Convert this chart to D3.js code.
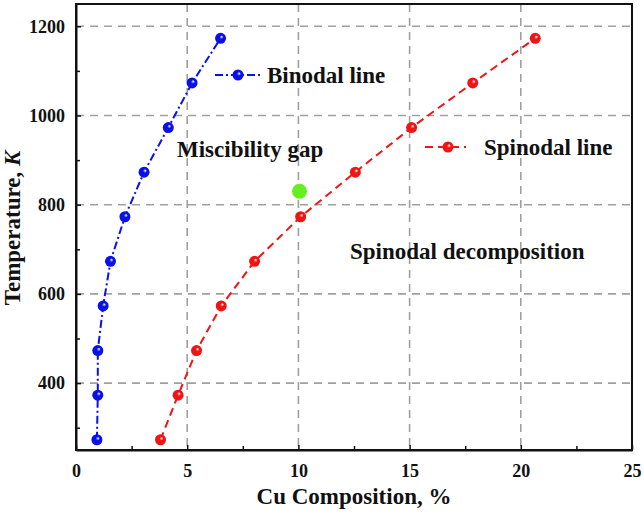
<!DOCTYPE html>
<html>
<head>
<meta charset="utf-8">
<script src="https://cdn.jsdelivr.net/npm/d3@7"></script>
<style>
  html, body { margin: 0; padding: 0; background: #fff; }
  svg { display: block; }
  text { font-family: "Liberation Serif", "Times New Roman", serif; font-weight: bold; fill: #111; }
</style>
</head>
<body>
<script>
// ---- data ----
const temperatures = [273, 373, 473, 573, 673, 773, 873, 973, 1073, 1173];
const binodalCu = [0.94, 0.98, 0.98, 1.22, 1.55, 2.2, 3.06, 4.15, 5.22, 6.5];
const spinodalCu = [3.8, 4.59, 5.42, 6.53, 8.03, 10.1, 12.56, 15.09, 17.84, 20.65];
const specialPoint = [10.05, 830];
const xTicks = [0, 5, 10, 15, 20, 25];
const xMinorTicks = [2.5, 7.5, 12.5, 17.5, 22.5];
const yTicks = [400, 600, 800, 1000, 1200];
const yMinorTicks = [300, 500, 700, 900, 1100];
const seriesNames = ["Binodal line", "Spinodal line"];
const regionLabels = ["Miscibility gap", "Spinodal decomposition"];

const W = 644, H = 514;
const svg = d3.select("body").append("svg").attr("width", W).attr("height", H);

const x = d3.scaleLinear().domain([0, 25]).range([76, 632]);
const y = d3.scaleLinear().domain([250, 1250]).range([450, 4]);

// gradients for ball markers
const defs = svg.append("defs");
function ballGrad(id, color) {
  const g = defs.append("radialGradient").attr("id", id)
    .attr("cx", "0.5").attr("cy", "0.5").attr("r", "0.6")
    .attr("fx", "0.62").attr("fy", "0.35");
  g.append("stop").attr("offset", "0%").attr("stop-color", "#fff");
  g.append("stop").attr("offset", "30%").attr("stop-color", color);
  g.append("stop").attr("offset", "100%").attr("stop-color", color);
}
ballGrad("gBlue", "#0a10e8");
ballGrad("gRed", "#f01414");

// grid
const grid = svg.append("g");
grid.selectAll(".vg").data(xTicks.filter(d => d > 0 && d < 25)).join("line")
  .attr("x1", d => x(d)).attr("x2", d => x(d)).attr("y1", y(1250)).attr("y2", y(250))
  .attr("stroke", "#a0a0a0").attr("stroke-width", 1.6).attr("stroke-dasharray", "8,6");
grid.selectAll(".hg").data(yTicks).join("line")
  .attr("y1", d => y(d)).attr("y2", d => y(d)).attr("x1", x(0)).attr("x2", x(25))
  .attr("stroke", "#a0a0a0").attr("stroke-width", 1.6).attr("stroke-dasharray", "8,6");

// axes
const fmt = d3.format("d");
const xAxis = d3.axisBottom(x).tickValues(xTicks).tickFormat(fmt).tickSizeInner(-5).tickSizeOuter(0).tickPadding(14);
const gx = svg.append("g").attr("transform", `translate(0,${y(250)})`).call(xAxis);
gx.selectAll("text").attr("font-size", 18).style("font-family", "Liberation Serif").style("font-weight", "bold").attr("fill", "#111");
const xMinor = d3.axisBottom(x).tickValues(xMinorTicks).tickSizeInner(-4).tickSizeOuter(0).tickFormat("");
svg.append("g").attr("transform", `translate(0,${y(250)})`).call(xMinor).select(".domain").remove();

const yAxis = d3.axisLeft(y).tickValues(yTicks).tickFormat(fmt).tickSizeInner(-5).tickSizeOuter(0).tickPadding(11);
const gy = svg.append("g").attr("transform", `translate(${x(0)},0)`).call(yAxis);
gy.selectAll("text").attr("font-size", 18).style("font-family", "Liberation Serif").style("font-weight", "bold").attr("fill", "#111");
const yMinor = d3.axisLeft(y).tickValues(yMinorTicks).tickSizeInner(-4).tickSizeOuter(0).tickFormat("");
svg.append("g").attr("transform", `translate(${x(0)},0)`).call(yMinor).select(".domain").remove();

svg.selectAll(".domain").attr("stroke", "#111").attr("stroke-width", 2);
svg.selectAll(".tick line").attr("stroke", "#111").attr("stroke-width", 1.5);

// frame
svg.append("rect").attr("x", x(0)).attr("y", y(1250)).attr("width", x(25) - x(0)).attr("height", y(250) - y(1250))
  .attr("fill", "none").attr("stroke", "#111").attr("stroke-width", 2);

// lines
const line = (vals) => d3.line().x((d, i) => x(vals[i])).y(d => y(d))(temperatures);
svg.append("path").attr("d", line(binodalCu)).attr("fill", "none").attr("stroke", "#0a10e8")
  .attr("stroke-width", 2).attr("stroke-dasharray", "8,3,2,3");
svg.append("path").attr("d", line(spinodalCu)).attr("fill", "none").attr("stroke", "#f01414")
  .attr("stroke-width", 2).attr("stroke-dasharray", "8,5");

// markers
svg.append("g").selectAll("circle").data(temperatures).join("circle")
  .attr("cx", (d, i) => x(binodalCu[i])).attr("cy", d => y(d)).attr("r", 5.5).attr("fill", "url(#gBlue)");
svg.append("g").selectAll("circle").data(temperatures).join("circle")
  .attr("cx", (d, i) => x(spinodalCu[i])).attr("cy", d => y(d)).attr("r", 5.5).attr("fill", "url(#gRed)");

// special point
svg.append("circle").attr("cx", x(specialPoint[0])).attr("cy", y(specialPoint[1])).attr("r", 7.5).attr("fill", "#66ee22");

// legend
const leg = [
  { name: seriesNames[0], color: "#0a10e8", grad: "url(#gBlue)", dash: "8,3,2,3", x1: 215, x2: 262, mx: 238, y: 75, tx: 267, ty: 83 },
  { name: seriesNames[1], color: "#f01414", grad: "url(#gRed)", dash: "8,5", x1: 425, x2: 466, mx: 448, y: 147, tx: 484, ty: 155 }
];
leg.forEach(l => {
  svg.append("line").attr("x1", l.x1).attr("x2", l.x2).attr("y1", l.y).attr("y2", l.y)
    .attr("stroke", l.color).attr("stroke-width", 2).attr("stroke-dasharray", l.dash);
  svg.append("circle").attr("cx", l.mx).attr("cy", l.y).attr("r", 5.5).attr("fill", l.grad);
  svg.append("text").attr("x", l.tx).attr("y", l.ty).attr("font-size", 23).text(l.name);
});

// region labels
svg.append("text").attr("x", 177).attr("y", 157).attr("font-size", 23).text(regionLabels[0]);
svg.append("text").attr("x", 350).attr("y", 259).attr("font-size", 23).text(regionLabels[1]);

// axis titles
svg.append("text").attr("x", 354).attr("y", 504).attr("text-anchor", "middle").attr("font-size", 23).text("Cu Composition, %");
const yt = svg.append("text").attr("transform", "translate(20,228) rotate(-90)").attr("text-anchor", "middle").attr("font-size", 23);
yt.append("tspan").text("Temperature, ");
yt.append("tspan").attr("font-style", "italic").text("K");
</script>
</body>
</html>
